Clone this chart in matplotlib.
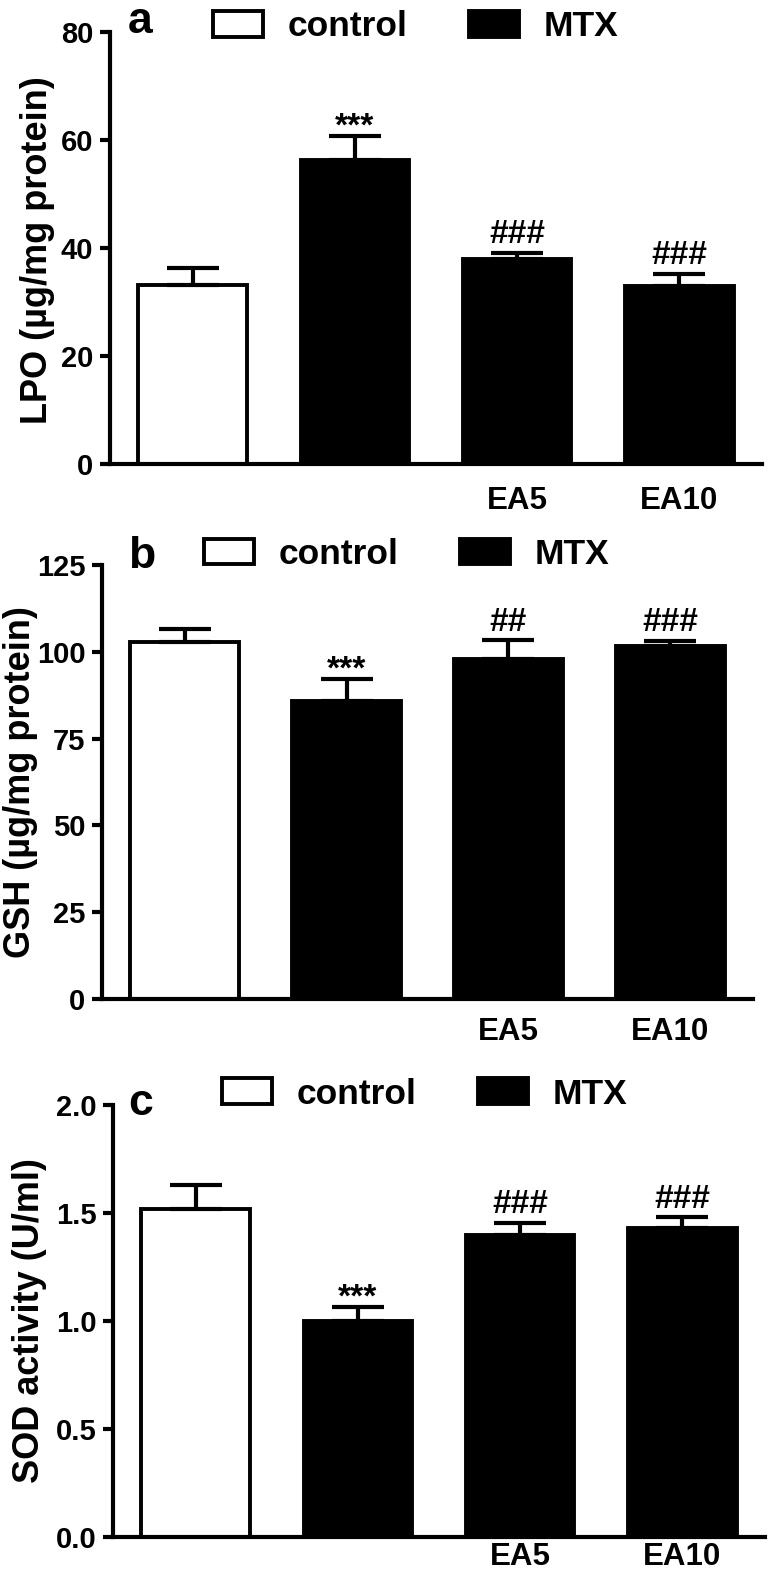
import matplotlib
matplotlib.use('Agg')
import matplotlib.pyplot as plt
from matplotlib.patches import Patch

plt.rcParams['font.family'] = ['Liberation Sans', 'DejaVu Sans']
plt.rcParams['font.weight'] = 'bold'

# groups / x tick labels
groups = ['control', 'MTX', 'EA5', 'EA10']
xlabels = ['', '', 'EA5', 'EA10']
bar_colors = ['white', 'black', 'black', 'black']
legend_labels = ['control', 'MTX']

# a: LPO
lpo = [33.2, 56.4, 38.0, 32.9]
lpo_err = [3.1, 4.4, 1.1, 2.3]
lpo_sig = ['', '***', '###', '###']
lpo_ticks = [0, 20, 40, 60, 80]

# b: GSH
gsh = [102.8, 85.7, 97.9, 101.7]
gsh_err = [3.7, 6.5, 5.4, 1.4]
gsh_sig = ['', '***', '##', '###']
gsh_ticks = [0, 25, 50, 75, 100, 125]

# c: SOD
sod = [1.52, 1.00, 1.40, 1.43]
sod_err = [0.11, 0.065, 0.055, 0.05]
sod_sig = ['', '***', '###', '###']
sod_ticks = [0.0, 0.5, 1.0, 1.5, 2.0]

W, H = 768, 1579
fig = plt.figure(figsize=(W / 100, H / 100), dpi=100)


def px(x, y):
    # pixel position -> figure fraction
    return x / W, 1 - y / H


def panel(box, vals, errs, sig, ticks, fmt, ylabel, letter, ylab_xy, leg_xy, letter_xy, xpad):
    left, top, right, bottom = box
    ax = fig.add_axes([left / W, 1 - bottom / H, (right - left) / W, (bottom - top) / H])
    x = list(range(len(vals)))
    ax.bar(x, vals, width=0.67, color=bar_colors, edgecolor='black', linewidth=2.8, zorder=2)
    ax.errorbar(x, vals, yerr=[[0] * len(vals), errs], fmt='none', ecolor='black',
                elinewidth=3, capsize=19, capthick=3, zorder=3)
    for i, s in enumerate(sig):
        if s:
            off = 0 if s.startswith('*') else 7
            ax.annotate(s, (i, vals[i] + errs[i]), xytext=(0, off), textcoords='offset points',
                        ha='center', va='baseline', fontsize=24, fontweight='bold')

    ax.set_xlim(-0.51, 3.51)
    ax.set_ylim(ticks[0], ticks[-1])
    ax.set_yticks(ticks)
    ax.set_yticklabels([fmt.format(t) for t in ticks])
    ax.set_xticks(x)
    ax.set_xticklabels(xlabels)
    ax.tick_params(axis='x', length=0, pad=xpad, labelsize=22.5)
    ax.tick_params(axis='y', length=7, width=3, pad=5, labelsize=21, direction='out')
    for sp in ['top', 'right']:
        ax.spines[sp].set_visible(False)
    for sp in ['left', 'bottom']:
        ax.spines[sp].set_linewidth(3)

    fig.text(*px(*ylab_xy), ylabel, rotation=90, ha='center', va='center',
             fontsize=26, fontweight='bold')
    fig.text(*px(*letter_xy), letter, ha='left', va='baseline', fontsize=32, fontweight='bold')

    handles = [Patch(facecolor='white', edgecolor='black', linewidth=2.8),
               Patch(facecolor='black', edgecolor='black', linewidth=2.8)]
    ax.legend(handles, legend_labels, ncol=2, loc='center left', bbox_to_anchor=px(*leg_xy),
              bbox_transform=fig.transFigure, frameon=False, borderpad=0, borderaxespad=0,
              handlelength=1.41, handleheight=0.73, handletextpad=0.71, columnspacing=1.72,
              fontsize=25.5)
    return ax


panel((110, 32.3, 762, 464), lpo, lpo_err, lpo_sig, lpo_ticks, '{:g}',
      'LPO (µg/mg protein)', 'a', (37.5, 250), (213, 27), (128, 33), 16)
panel((102, 565, 753, 999), gsh, gsh_err, gsh_sig, gsh_ticks, '{:g}',
      'GSH (µg/mg protein)', 'b', (21, 782), (204, 554.5), (128, 568), 13)
panel((113, 1105, 765, 1537), sod, sod_err, sod_sig, sod_ticks, '{:.1f}',
      'SOD activity (U/ml)', 'c', (30, 1321), (222, 1094), (128, 1115), 3.5)

fig.savefig('out.png', dpi=100)
